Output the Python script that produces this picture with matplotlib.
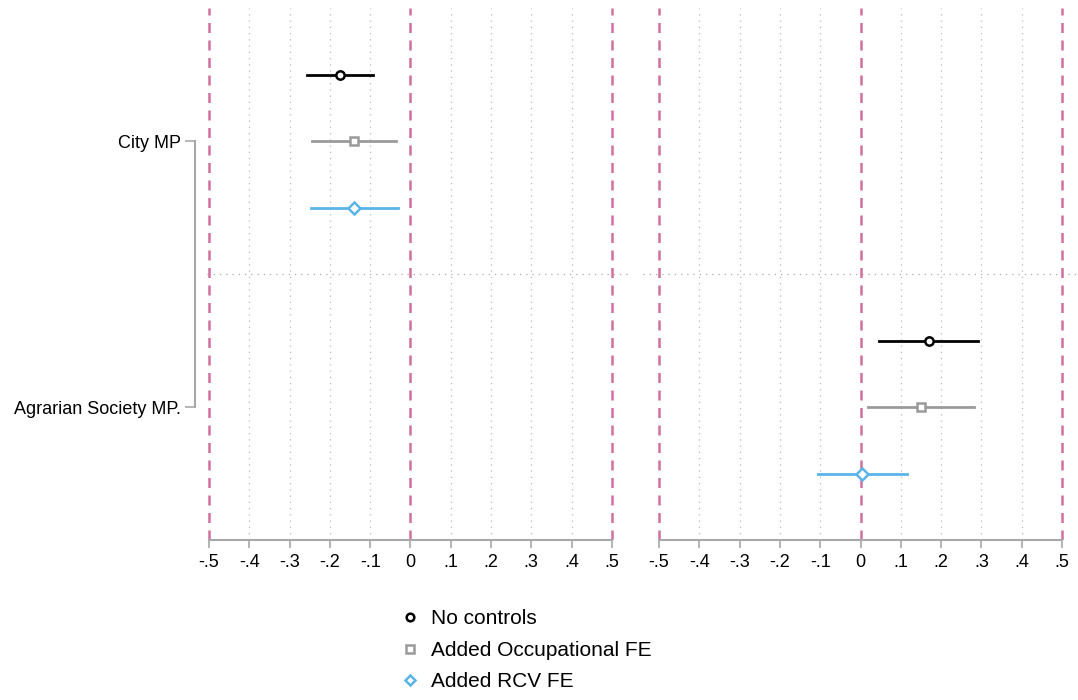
import matplotlib.pyplot as plt
from matplotlib.lines import Line2D

plt.rcParams['font.family'] = ['Liberation Sans', 'DejaVu Sans']

# data
models = ['No controls', 'Added Occupational FE', 'Added RCV FE']
colors = ['black', '#9a9a9a', '#5ab4e8']
markers = ['o', 's', 'D']
msizes = [6, 6, 6]

city_coef = [-0.175, -0.140, -0.140]
city_lo = [-0.256, -0.244, -0.247]
city_hi = [-0.093, -0.036, -0.031]

agr_coef = [0.170, 0.150, 0.004]
agr_lo = [0.046, 0.019, -0.105]
agr_hi = [0.291, 0.282, 0.115]

ylabels = ['City MP', 'Agrarian Society MP.']
xticks = [-0.5, -0.4, -0.3, -0.2, -0.1, 0, 0.1, 0.2, 0.3, 0.4, 0.5]
xticklabels = ['-.5', '-.4', '-.3', '-.2', '-.1', '0', '.1', '.2', '.3', '.4', '.5']
offsets = [-0.25, 0, 0.25]

pink = '#d0709f'
grey = '#a8a8a8'

fig = plt.figure(figsize=(10.78, 7), dpi=100)
ax1 = fig.add_axes([207 / 1078, 1 - 540 / 700, 421 / 1078, 532 / 700])
ax2 = fig.add_axes([643 / 1078, 1 - 540 / 700, 435 / 1078, 532 / 700])


def setup(ax, xlim, first):
    ax.set_xlim(*xlim)
    ax.set_ylim(2.5, 0.5)
    for x in xticks:
        if x in (-0.5, 0, 0.5):
            ax.axvline(x, color=pink, ls=(0, (4, 3)), lw=1.8, zorder=1)
        else:
            ax.axvline(x, color='#bbbbbb', ls=(0, (1, 4)), lw=0.9, zorder=0)
    ax.axhline(1.5, color='#aaaaaa', ls=(0, (1, 4)), lw=0.9, zorder=0)
    for s in ['top', 'right']:
        ax.spines[s].set_visible(False)
    ax.spines['bottom'].set_bounds(-0.5, 0.5)
    ax.spines['bottom'].set_color(grey)
    ax.spines['bottom'].set_linewidth(1.5)
    ax.set_xticks(xticks)
    ax.set_xticklabels(xticklabels, fontsize=13)
    ax.tick_params(axis='x', colors=grey, labelcolor='black', length=6, width=1.2, pad=4)
    if first:
        ax.spines['left'].set_position(('outward', 9))
        ax.spines['left'].set_bounds(1, 2)
        ax.spines['left'].set_color(grey)
        ax.spines['left'].set_linewidth(1.5)
        ax.set_yticks([1, 2])
        ax.set_yticklabels(ylabels, fontsize=13)
        ax.tick_params(axis='y', colors=grey, labelcolor='black', length=7, width=1.2, pad=3)
    else:
        ax.spines['left'].set_visible(False)
        ax.set_yticks([])


setup(ax1, (-0.505, 0.54), True)
setup(ax2, (-0.54, 0.54), False)

for i in range(3):
    y = 1 + offsets[i]
    ax1.plot([city_lo[i], city_hi[i]], [y, y], color=colors[i], lw=2, zorder=3)
    ax1.plot(city_coef[i], y, marker=markers[i], ms=msizes[i], mfc='white',
             mec=colors[i], mew=1.8, zorder=4)
    y = 2 + offsets[i]
    ax2.plot([agr_lo[i], agr_hi[i]], [y, y], color=colors[i], lw=2, zorder=3)
    ax2.plot(agr_coef[i], y, marker=markers[i], ms=msizes[i], mfc='white',
             mec=colors[i], mew=1.8, zorder=4)

handles = [Line2D([], [], ls='none', marker=markers[i], ms=5.5, mfc='white',
                  mec=colors[i], mew=1.8) for i in range(3)]
fig.legend(handles, models, loc='upper left', bbox_to_anchor=(387 / 1078, 1 - 601 / 700),
           frameon=False, fontsize=15, handletextpad=0.3, labelspacing=0.6,
           handlelength=1.4, borderaxespad=0)

fig.savefig('out.png', dpi=100)
